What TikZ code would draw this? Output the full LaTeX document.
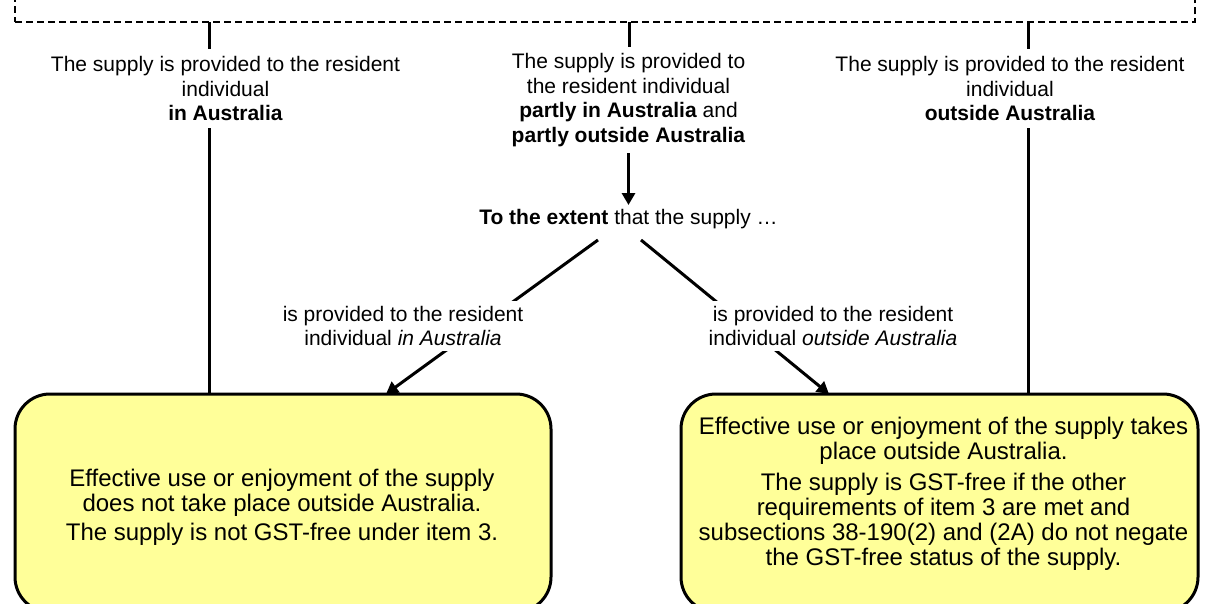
\documentclass[tikz,border=0pt]{standalone}
\usepackage{fontspec}
\setmainfont{Liberation Sans}
\usetikzlibrary{arrows.meta,calc}
\definecolor{boxyellow}{HTML}{FFFF99}
\begin{document}
\begin{tikzpicture}[x=1pt,y=-1pt,
  lab/.style={inner xsep=2pt, inner ysep=0pt, align=center, font=\fontsize{21}{24.6}\selectfont},
  boxtext/.style={inner sep=0pt, align=center, font=\fontsize{24}{25.2}\selectfont},
  ybox/.style={draw, line width=3pt, fill=boxyellow, rounded corners=35pt, outer sep=0pt, inner sep=0pt, minimum height=218pt},
  ln/.style={line width=3pt},
  arr/.style={line width=3pt, -{Triangle[width=13pt,length=12pt]}},
  dashframe/.style={draw, dash pattern=on 7pt off 4pt, line width=2pt, inner sep=0pt, outer sep=0pt}
]
\path[use as bounding box] (0,0) rectangle (1209,604);
\clip (0,0) rectangle (1209,604);

% dashed frame (top part outside the picture)
\node[dashframe, minimum width=1180pt, minimum height=60pt, anchor=south west] (frame) at (15,22.5) {};
\coordinate (sL) at (209,22.5);
\coordinate (sM) at (629,22.5);
\coordinate (sR) at (1028,22.5);

% texts under the frame
\node[lab, inner ysep=7pt] (lt) at (225.5,88.5) {The supply is provided to the resident\\individual\\\textbf{in Australia}};
\node[lab, inner ysep=6pt] (mt) at (628.5,100.2) {The supply is provided to\\the resident individual\\\textbf{partly in Australia} and\\\textbf{partly outside Australia}};
\node[lab, inner ysep=7pt] (rt) at (1010,88.5) {The supply is provided to the resident\\individual\\\textbf{outside Australia}};
\node[lab, inner ysep=4pt] (ex) at (628.5,219) {\textbf{To the extent} that the supply …};

% boxes
\node[ybox, minimum width=536pt, anchor=north west] (lb) at (15,394) {};
\node[ybox, minimum width=517pt, anchor=north west] (rb) at (681,394) {};
\node[boxtext] (lbt) at (282,507) {Effective use or enjoyment of the supply\\does not take place outside Australia.\\[4pt]The supply is not GST-free under item 3.};
\node[boxtext] (rbt) at (943.5,494) {Effective use or enjoyment of the supply takes\\place outside Australia.\\[5.5pt]The supply is GST-free if the other\\requirements of item 3 are met and\\subsections 38-190(2) and (2A) do not negate\\the GST-free status of the supply.};

% connectors
\draw[ln] (sL) -- (sL |- lt.north);
\draw[ln] (sM) -- (sM |- mt.north);
\draw[ln] (sR) -- (sR |- rt.north);
\draw[ln] (sL |- lt.south) -- (sL |- lb.north);
\draw[ln] (sR |- rt.south) -- (sR |- rb.north);
\draw[arr] (mt.south) -- (ex.north);
\draw[arr] ([shift={(-30.5,7)}]ex.south) -- ([shift={(103,0)}]lb.north);
\draw[arr] ([shift={(12.5,7)}]ex.south) -- ([shift={(-110.5,0)}]rb.north);

% labels on the diagonal connectors
\node[lab, fill=white, inner ysep=5pt] (ll) at (403,326) {is provided to the resident\\individual \textit{in Australia}};
\node[lab, fill=white, inner ysep=5pt] (rl) at (833,326) {is provided to the resident\\individual \textit{outside Australia}};
\end{tikzpicture}
\end{document}
